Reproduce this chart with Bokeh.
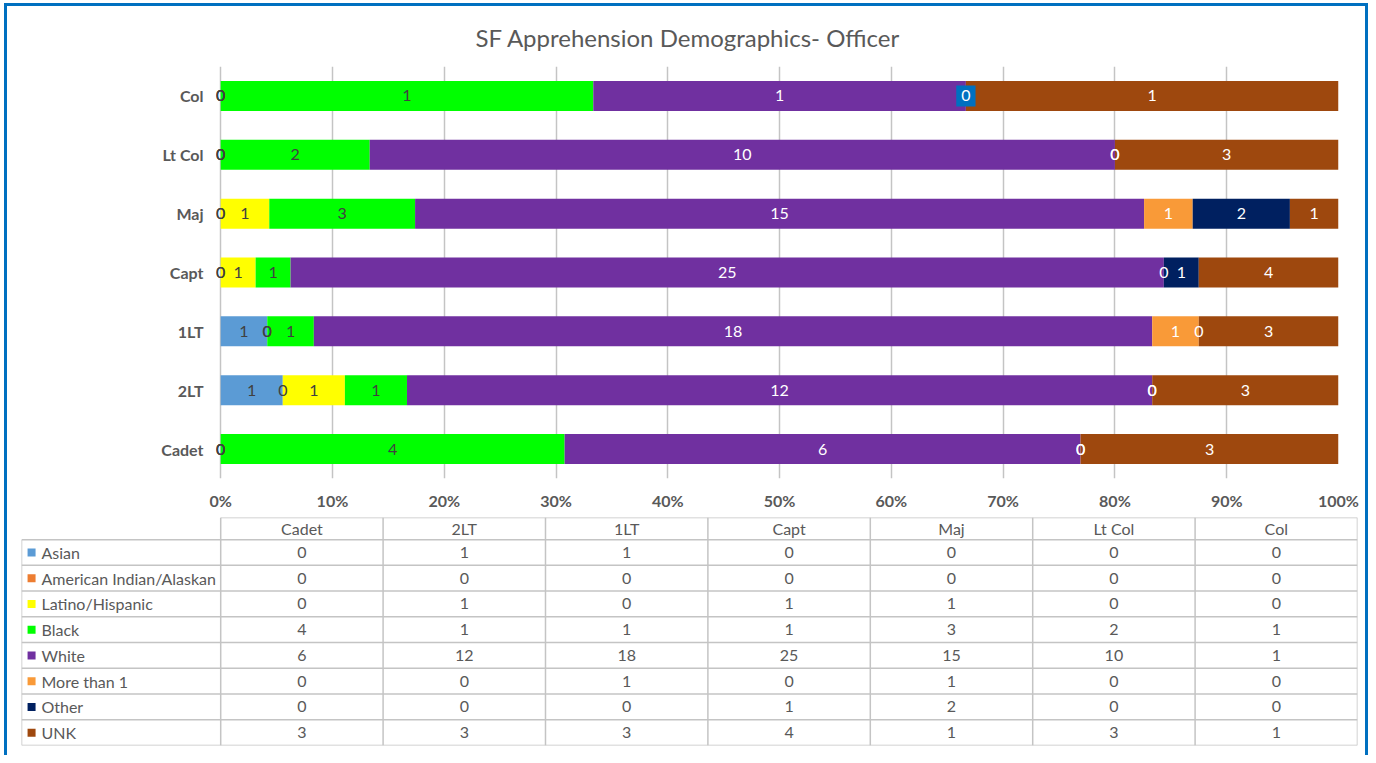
import numpy as np
from bokeh.plotting import figure
from bokeh.models import ColumnDataSource, FactorRange, Range1d, NumeralTickFormatter, FixedTicker
from bokeh.core.properties import value
from bokeh.embed import file_html
from bokeh.resources import INLINE

# ---------------- data ----------------
categories = ["Cadet", "2LT", "1LT", "Capt", "Maj", "Lt Col", "Col"]
series_names = ["Asian", "American Indian/Alaskan", "Latino/Hispanic", "Black",
                "White", "More than 1", "Other", "UNK"]
asian = [0, 1, 1, 0, 0, 0, 0]
am_indian = [0, 0, 0, 0, 0, 0, 0]
latino = [0, 1, 0, 1, 1, 0, 0]
black = [4, 1, 1, 1, 3, 2, 1]
white = [6, 12, 18, 25, 15, 10, 1]
more_than_1 = [0, 0, 1, 0, 1, 0, 0]
other = [0, 0, 0, 1, 2, 0, 0]
unk = [3, 3, 3, 4, 1, 3, 1]
x_ticks = [i / 10 for i in range(11)]
highlighted_label = ("Col", "Other")

colors = ["#5B9BD5", "#ED7D31", "#FFFF00", "#00FF00", "#7030A0", "#F99A38", "#002060", "#9E480E"]
label_colors = ["#404040", "#404040", "#404040", "#404040", "#FFFFFF", "#FFFFFF", "#FFFFFF", "#FFFFFF"]

FONT = "Lato"
TXT = "#595959"
GRID = "#C4C4C4"
BLUE = "3px solid #0070C0"
FS = "16px"

values = np.array([asian, am_indian, latino, black, white, more_than_1, other, unk], dtype=float)
totals = values.sum(axis=0)
fracs = values / totals
ends = np.cumsum(fracs, axis=0)
starts = ends - fracs
mids = (starts + ends) / 2

# ---------------- chart ----------------
p = figure(width=1364, height=512, y_range=FactorRange(factors=categories), x_range=Range1d(-0.01, 1),
           output_backend="svg", toolbar_location=None,
           min_border_left=202, min_border_right=33, min_border_top=60, min_border_bottom=40)
p.styles = {"border-left": BLUE, "border-right": BLUE, "border-top": BLUE,
            "margin-left": "4px", "margin-top": "3px"}
p.title.text = "SF Apprehension Demographics- Officer"
p.title.align = "left"
p.title.vertical_align = "middle"
p.title.offset = 266
p.title.standoff = 28
p.title.text_font = FONT
p.title.text_font_size = "24px"
p.title.text_font_style = "normal"
p.title.text_color = TXT

for i, name in enumerate(series_names):
    src = ColumnDataSource(dict(y=categories, left=starts[i], right=ends[i]))
    p.hbar(y="y", left="left", right="right", height=0.51, source=src,
           fill_color=colors[i], line_color=None)

for i, name in enumerate(series_names):
    xs, ys, ts = [], [], []
    for j, cat in enumerate(categories):
        if (cat, name) == highlighted_label:
            continue
        xs.append(mids[i, j]); ys.append(cat); ts.append(str(int(values[i, j])))
    p.text(x=xs, y=ys, text=ts, text_align="center", text_baseline="middle",
           text_font=value(FONT), text_font_size=FS, text_color=label_colors[i])

hi_i = series_names.index(highlighted_label[1])
hi_j = categories.index(highlighted_label[0])
p.text(x=[mids[hi_i, hi_j]], y=[highlighted_label[0]], text=[str(int(values[hi_i, hi_j]))],
       text_align="center", text_baseline="middle", text_font=value(FONT), text_font_size=FS,
       text_color="#FFFFFF", background_fill_color="#0070C0", padding=5)

p.xaxis.ticker = FixedTicker(ticks=x_ticks)
p.xaxis.formatter = NumeralTickFormatter(format="0%")
p.xgrid.ticker = FixedTicker(ticks=x_ticks)
p.xgrid.grid_line_color = GRID
p.xgrid.grid_line_width = 1.5
p.ygrid.grid_line_color = None
p.outline_line_color = None
for ax in (p.xaxis, p.yaxis):
    ax.axis_line_color = None
    ax.major_tick_line_color = None
    ax.minor_tick_line_color = None
    ax.major_tick_out = 0
    ax.major_tick_in = 0
    ax.major_label_text_font = FONT
    ax.major_label_text_font_size = FS
    ax.major_label_text_font_style = "bold"
    ax.major_label_text_color = TXT
p.yaxis.major_label_standoff = 6
p.xaxis.major_label_standoff = 12

# ---------------- data table ----------------
LEG_W = 1.2266
HDR_H = 0.86
leg_left = -LEG_W
n_rows = len(series_names)
n_cols = len(categories)

t = figure(width=1364, height=240, x_range=Range1d(leg_left, n_cols), y_range=Range1d(n_rows, -HDR_H),
           x_axis_type=None, y_axis_type=None, output_backend="svg", toolbar_location=None,
           min_border_left=14, min_border_right=14, min_border_top=2, min_border_bottom=10)
t.styles = {"border-left": BLUE, "border-right": BLUE, "margin-left": "4px"}
t.grid.visible = False
t.outline_line_color = None

# horizontal lines
hy = list(range(n_rows + 1))
t.segment(x0=[leg_left] * len(hy), x1=[n_cols] * len(hy), y0=hy, y1=hy, line_color=GRID, line_width=1.5)
t.segment(x0=[0], x1=[n_cols], y0=[-HDR_H], y1=[-HDR_H], line_color=GRID, line_width=1.5)
# vertical lines
vx = list(range(n_cols + 1))
t.segment(x0=vx, x1=vx, y0=[-HDR_H] * len(vx), y1=[n_rows] * len(vx), line_color=GRID, line_width=1.5)
t.segment(x0=[leg_left], x1=[leg_left], y0=[0], y1=[n_rows], line_color=GRID, line_width=1.5)

# header
t.text(x=[j + 0.5 for j in range(n_cols)], y=[-HDR_H / 2] * n_cols, text=categories,
       text_align="center", text_baseline="middle", text_font=value(FONT),
       text_font_size=FS, text_color=TXT)
# legend column
row_y = [i + 0.5 for i in range(n_rows)]
t.scatter(x=[leg_left + 0.062] * n_rows, y=row_y, marker="square", size=8,
          fill_color=colors, line_color=None)
t.text(x=[leg_left + 0.123] * n_rows, y=row_y, text=series_names, text_align="left",
       text_baseline="middle", text_font=value(FONT), text_font_size=FS, text_color=TXT)
# values
vxs, vys, vts = [], [], []
for i in range(n_rows):
    for j in range(n_cols):
        vxs.append(j + 0.5); vys.append(i + 0.5); vts.append(str(int(values[i, j])))
t.text(x=vxs, y=vys, text=vts, text_align="center", text_baseline="middle",
       text_font=value(FONT), text_font_size=FS, text_color=TXT)

open("out.html", "w").write(file_html([p, t], INLINE))
